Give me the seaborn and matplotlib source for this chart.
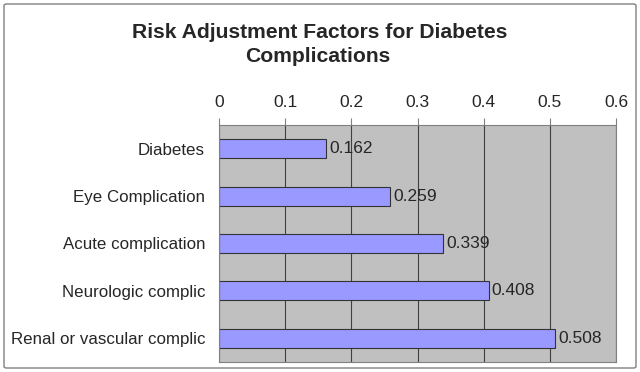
import numpy as np
import pandas as pd
import matplotlib
matplotlib.use("Agg")
import matplotlib.pyplot as plt
import seaborn as sns
from matplotlib.patches import FancyBboxPatch

# data
categories = ['Diabetes', 'Eye Complication', 'Acute complication',
              'Neurologic complic', 'Renal or vascular complic']
factors = [0.162, 0.259, 0.339, 0.408, 0.508]
x_ticks = [0, 0.1, 0.2, 0.3, 0.4, 0.5, 0.6]
x_tick_labels = ['0', '0.1', '0.2', '0.3', '0.4', '0.5', '0.6']

df = pd.DataFrame({'complication': categories, 'factor': factors})

sns.set_style('white')
plt.rcParams['font.family'] = ['Liberation Sans', 'DejaVu Sans']

fig = plt.figure(figsize=(6.4, 3.72), dpi=100)

# outer chart border
border = FancyBboxPatch((4 / 640, 4 / 372), 632 / 640, 364 / 372,
                        boxstyle='round,pad=0,rounding_size=0.004',
                        transform=fig.transFigure, fill=False,
                        edgecolor='#808080', linewidth=1.0)
fig.patches.append(border)

ax = fig.add_axes([219 / 640, 1 - 362 / 372, 397 / 640, 237 / 372])
ax.set_facecolor('#C0C0C0')

sns.barplot(data=df, x='factor', y='complication', orient='h', ax=ax,
            color='#9999FF', edgecolor='#333333', linewidth=0.8,
            width=0.4, saturation=1)

ax.bar_label(ax.containers[0], fmt='%.3f', padding=2, fontsize=12.5)

ax.set_xlim(0, 0.6)
ax.set_ylim(4.5, -0.5)
ax.set_xticks(x_ticks)
ax.set_xticklabels(x_tick_labels, fontsize=12.5)
ax.xaxis.tick_top()
ax.tick_params(axis='x', direction='out', length=5, width=0.8,
               color='#808080', pad=6)
ax.tick_params(axis='y', which='major', length=0, labelsize=12.2, pad=10)
ax.set_yticks(np.arange(-0.5, 5, 1), minor=True)
ax.tick_params(axis='y', which='minor', direction='out', length=5,
               width=0.8, color='#808080')
ax.grid(axis='x', color='#404040', linewidth=0.8)
ax.set_axisbelow(True)
ax.set_xlabel('')
ax.set_ylabel('')
for side in ['top', 'right', 'bottom', 'left']:
    ax.spines[side].set_color('#808080')
    ax.spines[side].set_linewidth(0.8)

fig.text(0.5, 1 - 32 / 372, 'Risk Adjustment Factors for Diabetes',
         ha='center', va='center', fontsize=15.2, fontweight='bold')
fig.text(318 / 640, 1 - 57 / 372, 'Complications',
         ha='center', va='center', fontsize=15.2, fontweight='bold')

fig.savefig('out.png', dpi=100)
